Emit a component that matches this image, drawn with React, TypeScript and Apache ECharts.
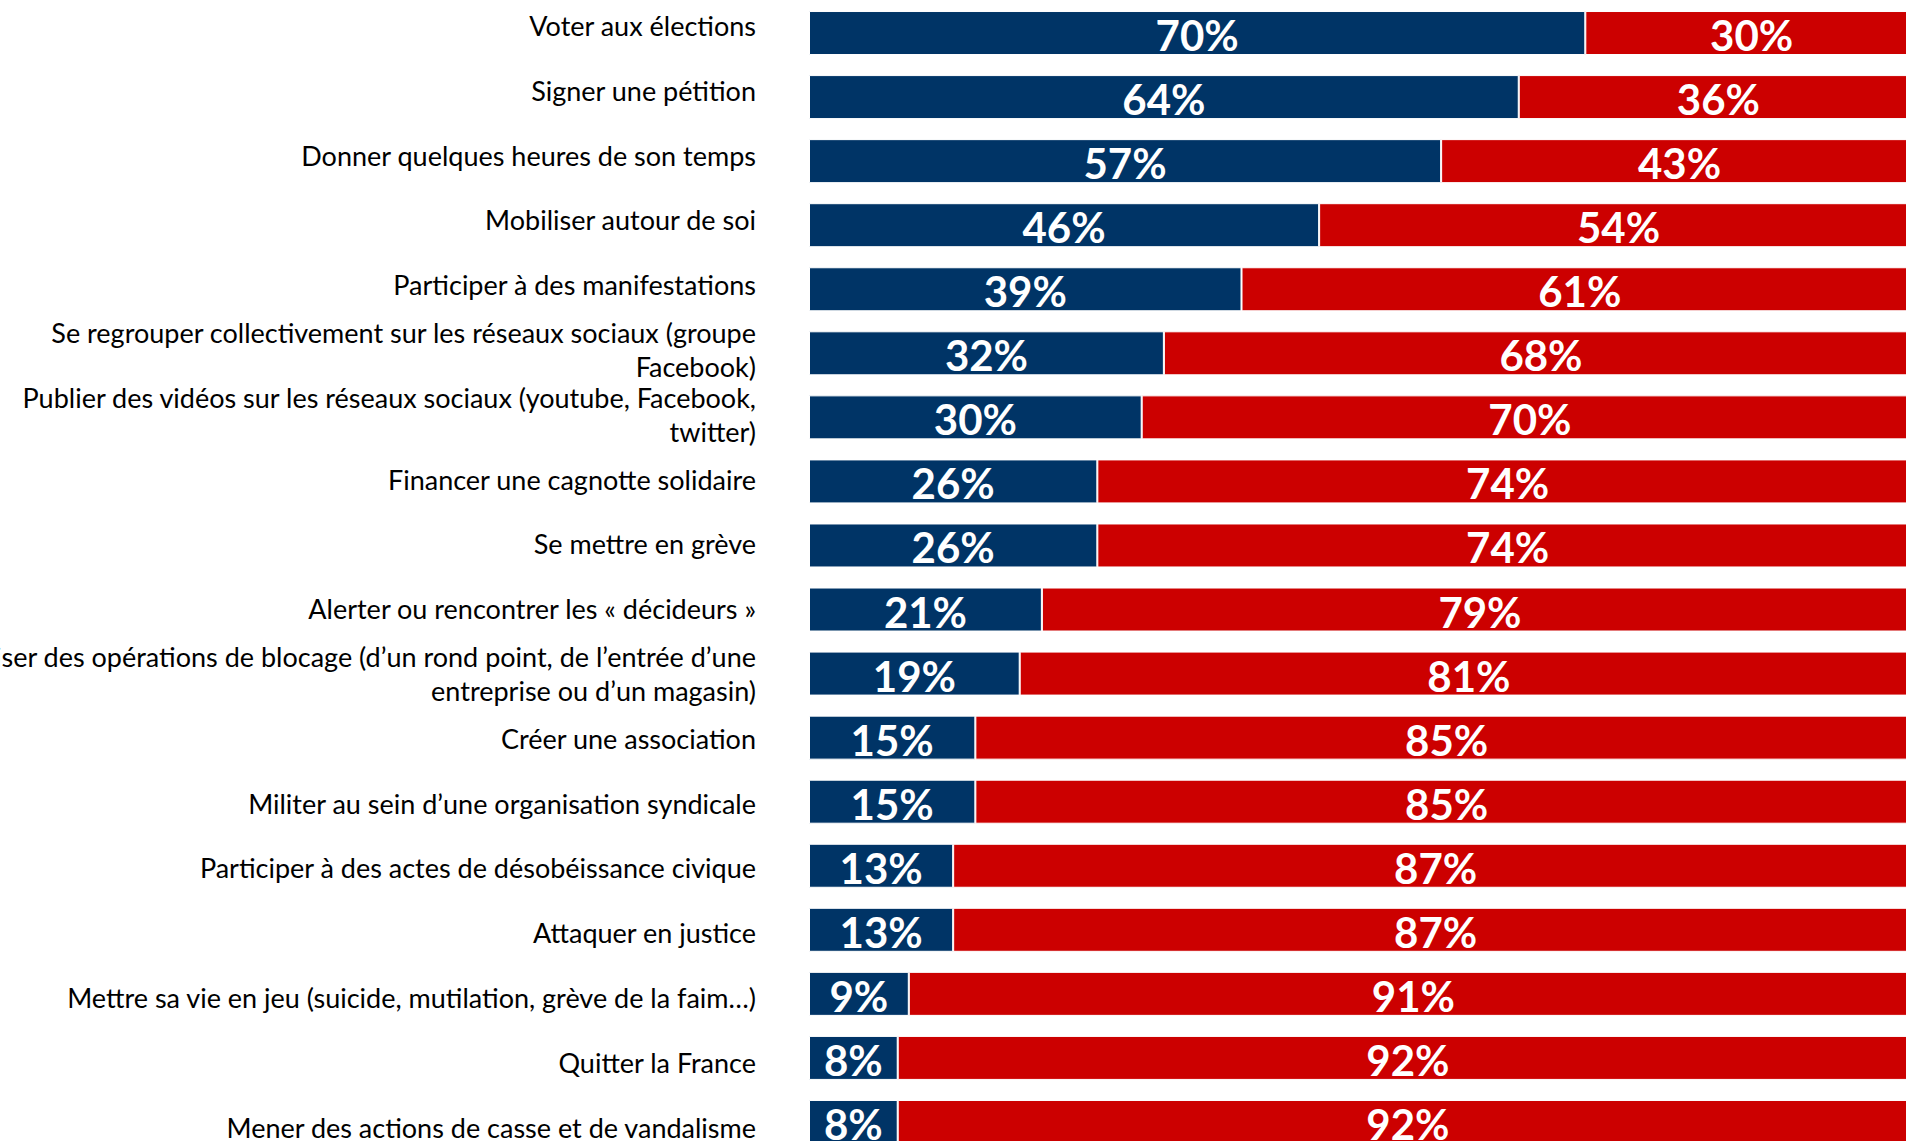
import React, { useEffect, useRef } from "react";
import * as echarts from "echarts";

const categories = [
  "Voter aux élections",
  "Signer une pétition",
  "Donner quelques heures de son temps",
  "Mobiliser autour de soi",
  "Participer à des manifestations",
  "Se regrouper collectivement sur les réseaux sociaux (groupe\nFacebook)",
  "Publier des vidéos sur les réseaux sociaux (youtube, Facebook,\ntwitter)",
  "Financer une cagnotte solidaire",
  "Se mettre en grève",
  "Alerter ou rencontrer les « décideurs »",
  "Organiser des opérations de blocage (d’un rond point, de l’entrée d’une\nentreprise ou d’un magasin)",
  "Créer une association",
  "Militer au sein d’une organisation syndicale",
  "Participer à des actes de désobéissance civique",
  "Attaquer en justice",
  "Mettre sa vie en jeu (suicide, mutilation, grève de la faim…)",
  "Quitter la France",
  "Mener des actions de casse et de vandalisme",
];

const ouiValues = [70, 64, 57, 46, 39, 32, 30, 26, 26, 21, 19, 15, 15, 13, 13, 9, 8, 8];
const nonValues = [30, 36, 43, 54, 61, 68, 70, 74, 74, 79, 81, 85, 85, 87, 87, 91, 92, 92];

export default function App() {
  const ref = useRef<HTMLDivElement>(null);
  useEffect(() => {
    if (!ref.current) return;
    const chart = echarts.init(ref.current, null, { renderer: "svg" });
    const labelStyle = {
      show: true,
      position: "inside",
      formatter: "{c}%",
      color: "#ffffff",
      fontFamily: "Lato",
      fontWeight: "bold",
      fontSize: 42,
      offset: [0, 2],
    };
    chart.setOption({
      animation: false,
      backgroundColor: "#ffffff",
      grid: [
        { left: 809, right: -12, top: 1, bottom: -13, containLabel: false, outerBoundsMode: "none" },
        { left: 809, right: -12, top: -7, bottom: -18.5, containLabel: false, outerBoundsMode: "none" },
      ],
      xAxis: [
        { type: "value", gridIndex: 0, min: 0, max: 100, show: false },
        { type: "value", gridIndex: 1, min: 0, max: 100, show: false },
      ],
      yAxis: [
        {
          type: "category",
          gridIndex: 0,
          inverse: true,
          data: categories,
          axisLine: { show: false },
          axisTick: { show: false },
          axisLabel: { show: false },
        },
        {
          type: "category",
          gridIndex: 1,
          inverse: true,
          data: categories,
          axisLine: { show: false },
          axisTick: { show: false },
          splitLine: { show: false },
          axisLabel: {
            margin: 53,
            color: "#000000",
            fontFamily: "Lato",
            fontSize: 27,
            lineHeight: 34,
            align: "right",
          },
        },
      ],
      series: [
        {
          name: "Oui",
          type: "bar",
          stack: "total",
          data: ouiValues,
          barWidth: 44,
          itemStyle: { color: "#003466", borderColor: "#ffffff", borderWidth: 1 },
          label: labelStyle,
        },
        {
          name: "Non",
          type: "bar",
          stack: "total",
          data: nonValues,
          barWidth: 44,
          itemStyle: { color: "#cc0000", borderColor: "#ffffff", borderWidth: 1 },
          label: labelStyle,
        },
      ],
    });
    return () => chart.dispose();
  }, []);
  return (
    <div
      ref={ref}
      style={{ position: "fixed", left: 0, top: 0, width: 1906, height: 1141 }}
    />
  );
}
